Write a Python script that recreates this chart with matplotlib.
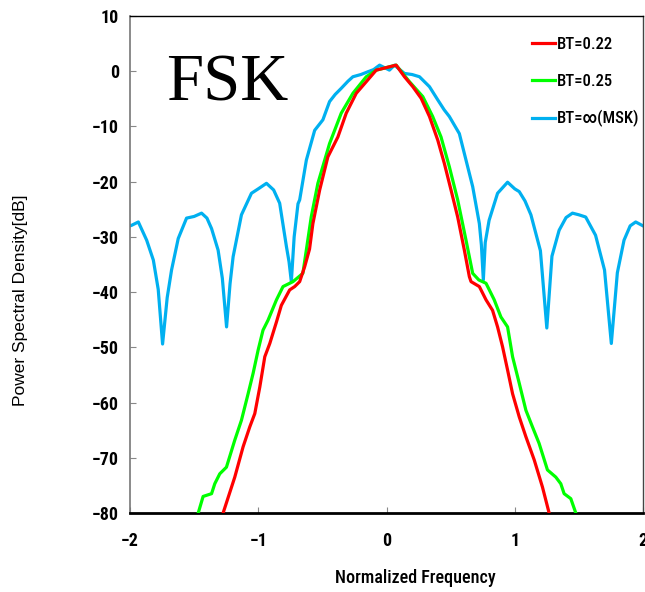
import matplotlib
matplotlib.use("Agg")
import matplotlib.pyplot as plt
from matplotlib import font_manager

# ---- data ----
msk_x = [-2.0, -1.987, -1.935, -1.87, -1.818, -1.78, -1.746, -1.71, -1.676, -1.624, -1.559, -1.50, -1.442, -1.40,
         -1.364, -1.313, -1.28, -1.247, -1.22, -1.196, -1.131, -1.053, -1.00, -0.936, -0.88, -0.833, -0.78, -0.76,
         -0.742, -0.72, -0.69, -0.677, -0.625, -0.56, -0.496, -0.444, -0.40, -0.353, -0.30, -0.262, -0.20, -0.145,
         -0.10, -0.054, 0.023, 0.062, 0.14, 0.20, 0.257, 0.335, 0.40, 0.45, 0.49, 0.568, 0.62, 0.672, 0.724, 0.74,
         0.755, 0.77, 0.80, 0.866, 0.944, 1.00, 1.035, 1.08, 1.126, 1.20, 1.25, 1.29, 1.346, 1.40, 1.45, 1.50,
         1.553, 1.63, 1.70, 1.753, 1.80, 1.852, 1.90, 1.943, 2.0]
msk_y = [-28.0, -27.9, -27.3, -30.6, -34.2, -39.5, -49.4, -41.0, -36.0, -30.3, -26.6, -26.3, -25.7, -26.6,
         -28.5, -32.4, -37.5, -46.3, -38.5, -33.6, -26.0, -22.1, -21.3, -20.3, -21.5, -23.9, -31.8, -34.5,
         -38.1, -30.0, -24.0, -23.3, -16.1, -10.7, -8.8, -5.5, -4.2, -3.1, -1.8, -1.0, -0.6, -0.1,
         0.3, 1.1, 0.2, 1.1, -0.4, -0.6, -1.0, -2.8, -5.2, -7.0, -8.2, -11.3, -16.1, -20.9, -27.6, -31.5,
         -37.8, -31.0, -27.0, -22.1, -20.1, -21.3, -21.8, -23.5, -26.0, -32.5, -46.5, -33.5, -28.8, -26.5, -25.7, -26.0,
         -26.4, -29.7, -36.0, -49.3, -36.5, -30.6, -28.0, -27.3, -28.0]

bt22_x = [-1.274, -1.183, -1.118, -1.066, -1.027, -0.988, -0.949, -0.91, -0.858, -0.82, -0.755, -0.716, -0.677,
          -0.638, -0.6, -0.574, -0.521, -0.457, -0.379, -0.314, -0.236, -0.158, -0.08, 0.023, 0.075, 0.14,
          0.205, 0.27, 0.335, 0.4, 0.451, 0.503, 0.555, 0.607, 0.646, 0.659, 0.724, 0.776, 0.827, 0.866,
          0.905, 0.944, 0.983, 1.035, 1.087, 1.152, 1.216, 1.268]
bt22_y = [-80.0, -73.5, -68.0, -64.4, -62.0, -57.2, -51.7, -49.3, -45.4, -42.4, -39.6, -39.0, -38.1,
          -35.4, -32.2, -27.6, -21.5, -15.5, -11.9, -7.6, -4.0, -1.9, 0.2, 0.8, 1.1, -1.0,
          -2.8, -4.9, -8.2, -12.5, -16.7, -21.5, -26.4, -32.4, -37.2, -38.1, -39.0, -41.4, -43.3, -46.3,
          -49.9, -54.1, -58.4, -62.6, -66.2, -70.4, -75.3, -80.0]

bt25_x = [-1.468, -1.43, -1.364, -1.339, -1.3, -1.248, -1.183, -1.131, -1.079, -1.04, -1.001, -0.963, -0.924,
          -0.858, -0.807, -0.729, -0.652, -0.587, -0.535, -0.444, -0.353, -0.262, -0.158, -0.08, 0.023, 0.075,
          0.179, 0.283, 0.36, 0.425, 0.49, 0.555, 0.62, 0.672, 0.72, 0.776, 0.84, 0.892, 0.944, 0.983, 1.035,
          1.087, 1.138, 1.19, 1.255, 1.32, 1.359, 1.385, 1.437, 1.476]
bt25_y = [-80.0, -77.0, -76.5, -74.7, -72.9, -71.7, -66.8, -63.2, -58.4, -54.7, -50.5, -46.9, -45.1,
          -41.4, -39.0, -38.1, -36.6, -26.4, -20.3, -13.1, -7.6, -4.0, -1.0, 0.2, 0.8, 1.1,
          -1.9, -4.6, -8.2, -11.9, -17.3, -23.3, -30.6, -36.6, -37.8, -38.4, -41.4, -44.5, -46.3, -51.7, -56.5,
          -61.4, -64.4, -67.4, -72.2, -73.5, -74.7, -76.5, -77.4, -80.0]

labels = ["BT=0.22", "BT=0.25", "BT=\u221e(MSK)"]
colors = ["#ff0000", "#00ff00", "#00b0f0"]
xticks = [-2, -1, 0, 1, 2]
yticks = [10, 0, -10, -20, -30, -40, -50, -60, -70, -80]


def _w(v):
    if isinstance(v, (int, float)):
        return v
    table = {"thin": 100, "extralight": 200, "light": 300, "normal": 400, "regular": 400, "book": 400,
             "medium": 500, "semibold": 600, "demibold": 600, "bold": 700, "heavy": 800, "black": 900}
    return table.get(str(v).lower(), 400)


def narrow_font(size, weight=500):
    """Pick an installed narrow sans font if one exists, close to the wanted weight."""
    fl = font_manager.fontManager.ttflist
    wanted = ["Liberation Sans Narrow", "Roboto Condensed", "Open Sans Condensed", "Noto Sans Condensed"]
    cands = []
    for w in wanted:
        cands = [f for f in fl if f.name == w and f.style == "normal"]
        if cands:
            break
    if not cands:
        cands = [f for f in fl if isinstance(f.stretch, str) and "condensed" in f.stretch
                 and "Sans" in f.name and f.style == "normal" and "Mono" not in f.name]
    if cands:
        best = min(cands, key=lambda f: abs(_w(f.weight) - weight))
        return font_manager.FontProperties(fname=best.fname, size=size)
    return font_manager.FontProperties(family="DejaVu Sans", size=size, stretch="condensed")


fig = plt.figure(figsize=(6.45, 5.92), dpi=100)
ax = fig.add_axes([130/645, 79/592, 513/645, 497/592])

ax.plot(msk_x, msk_y, color=colors[2], lw=2.3, label=labels[2], zorder=2)
ax.plot(bt25_x, bt25_y, color=colors[1], lw=2.3, label=labels[1], zorder=3)
ax.plot(bt22_x, bt22_y, color=colors[0], lw=2.3, label=labels[0], zorder=4)

ax.set_xlim(-2, 2)
ax.set_ylim(-80, 10)
ax.set_xticks(xticks)
ax.set_yticks(yticks)
ax.set_xticklabels(["\u22122", "\u22121", "0", "1", "2"])
ax.set_yticklabels([str(v) if v >= 0 else "\u2212" + str(-v) for v in yticks])
ax.tick_params(direction="in", length=4, width=0.8, color="#888888")
tfp = narrow_font(13, 600)
for lab in ax.get_xticklabels() + ax.get_yticklabels():
    lab.set_fontproperties(tfp)
ax.tick_params(axis="x", pad=14)
ax.tick_params(axis="y", pad=8)

ax.spines["bottom"].set_linewidth(2.0)
ax.spines["bottom"].set_color("black")
ax.spines["left"].set_color("#777777")
ax.spines["left"].set_linewidth(1.2)
ax.spines["top"].set_linewidth(1.0)
ax.spines["right"].set_linewidth(1.0)
ax.spines["right"].set_color("#444444")

handles, labs = ax.get_legend_handles_labels()
order = [2, 1, 0]
leg = ax.legend([handles[i] for i in order], [labs[i] for i in order], loc="upper left",
                bbox_to_anchor=((532 - 130) / 513, (513 - 37) / 497), frameon=False, prop=narrow_font(12, 500),
                handlelength=1.4, handletextpad=0.1, labelspacing=1.3, borderaxespad=0.0, borderpad=0.0)

ax.text((166 - 130) / 513, (513 - 84) / 497, "FSK", transform=ax.transAxes, fontsize=48,
        family="Liberation Serif", va="center", ha="left")

xfp = narrow_font(13, 500)
fig.text(415/645, 1 - 578/592, "Normalized Frequency", ha="center", va="center", fontproperties=xfp)
fig.text(21/645, 1 - 300/592, "Power Spectral Density[dB]", ha="center", va="center",
         rotation=90, fontsize=12.5, family=["Liberation Sans", "DejaVu Sans"])

fig.savefig("out.png", dpi=100)
